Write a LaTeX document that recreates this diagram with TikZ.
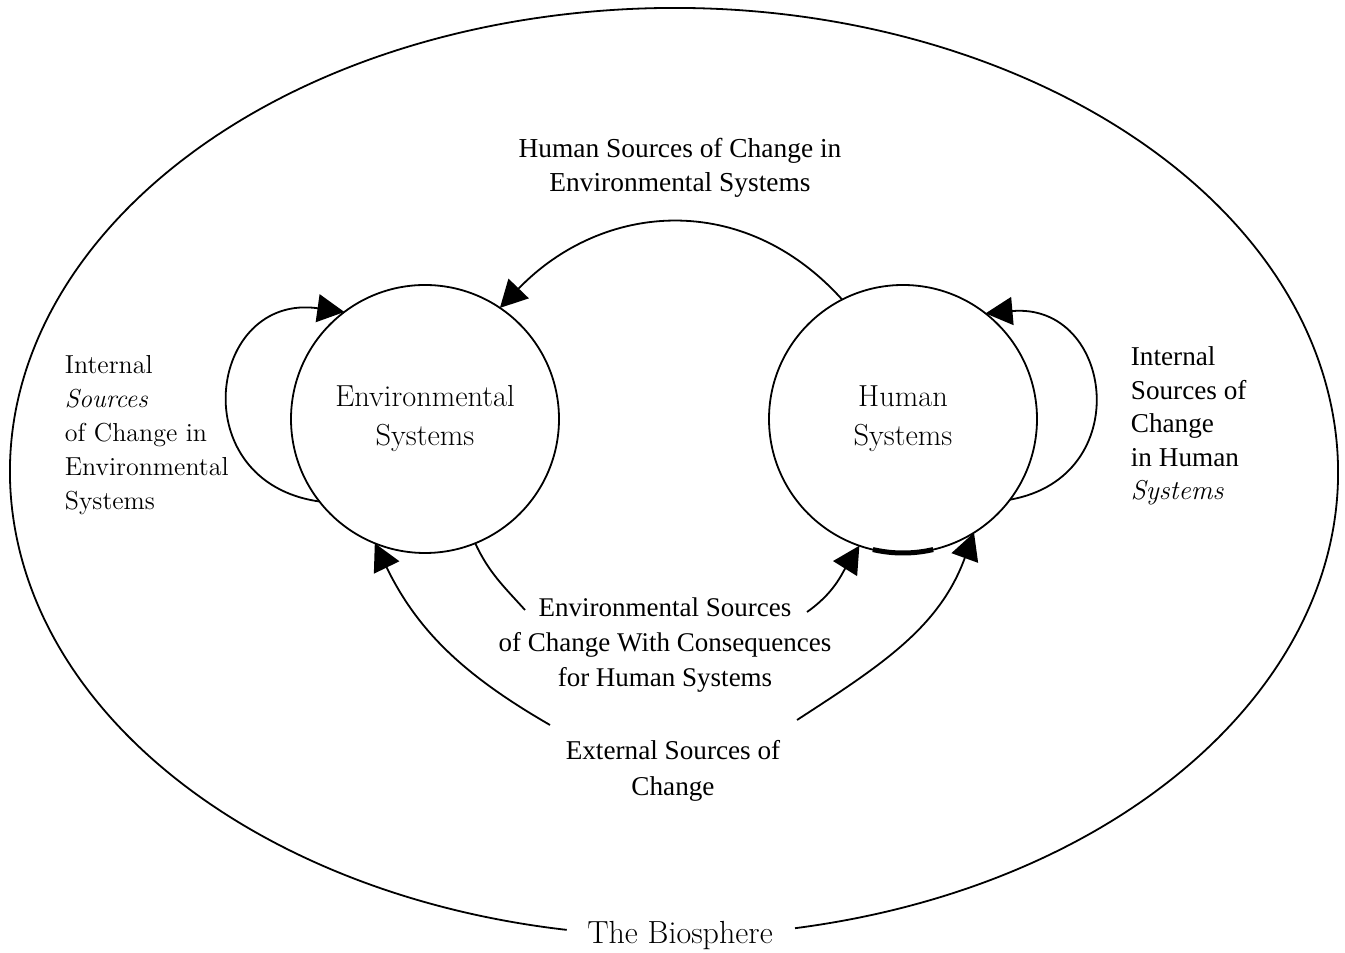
\documentclass[tikz,border=0pt]{standalone}
\usepackage{fontspec}
\newfontfamily\timesfont{Liberation Serif}
\usetikzlibrary{arrows.meta}

\begin{document}
\begin{tikzpicture}[x=0.5pt,y=0.5pt,line width=0.9pt,
    sysnode/.style={circle,draw,minimum size=134pt,inner sep=0pt,outer sep=0pt,
      align=center,font={\fontsize{15.2}{19.5}\selectfont}},
    srclabel/.style={align=center,inner sep=0pt,
      font={\timesfont\fontsize{13.7}{17}\selectfont}},
    flow/.style={-{Triangle[length=13.5pt,width=14pt]}}]
  \useasboundingbox (0,0) rectangle (1345,953);

  % Drawing the biosphere
  \draw (674,481) ++(280.5:664 and 464)
    arc[start angle=280.5,end angle=620.7,x radius=664,y radius=464];
  \node[inner sep=0pt,font={\fontsize{16}{19}\selectfont}] (bio) at (680,17) {The Biosphere};

  % Drawing the two systems
  \node[sysnode] (env) at (425,534) {Environmental\\Systems};
  \node[sysnode] (hum) at (903,534) {Human\\Systems};
  \draw[line width=2.5pt] (hum.257) arc[start angle=257,end angle=283,radius=134];

  % Internal sources (loops)
  \draw[flow] (env.218) to[out=172,in=172,looseness=1.85] (env.127);
  \draw[flow] (hum.323) to[out=10,in=5,looseness=1.75] (hum.52);

  % Human sources of change in environmental systems
  \draw[flow] (hum.117) to[out=132,in=46,looseness=1.1] (env.56);

  % External sources
  \coordinate (extL) at (550,228);
  \coordinate (extR) at (797,233);
  \draw[flow] (extL) to[out=150,in=-64] (env.248);
  \draw[flow] (extR) to[out=33,in=250] (hum.302);

  % Environmental sources with consequences
  \coordinate (midL) at (525,343);
  \coordinate (midR) at (807,341);
  \draw (env.292) to[out=-65,in=132] (midL);
  \draw[flow] (midR) to[out=35,in=238] (hum.251);

  % Labels
  \node[srclabel] (humsrc) at (680,785) {Human Sources of Change in\\Environmental Systems};
  \node[srclabel,font={\timesfont\fontsize{13.5}{17.5}\selectfont}] (envsrc) at (665,308)
    {Environmental Sources\\of Change With Consequences\\for Human Systems};
  \node[srclabel,font={\timesfont\fontsize{13.6}{18}\selectfont}] (extsrc) at (673,182)
    {External Sources of\\Change};
  \node[align=left,anchor=west,inner sep=0pt,font={\fontsize{13}{17}\selectfont}] (envint)
    at (64,518) {Internal\\\textit{Sources}\\of Change in\\Environmental\\Systems};
  \node[srclabel,align=left,anchor=west,font={\timesfont\fontsize{13.6}{16.75}\selectfont}] (humint)
    at (1130,527) {Internal\\Sources of\\Change\\in Human\\{\rmfamily\itshape Systems}};
\end{tikzpicture}
\end{document}
